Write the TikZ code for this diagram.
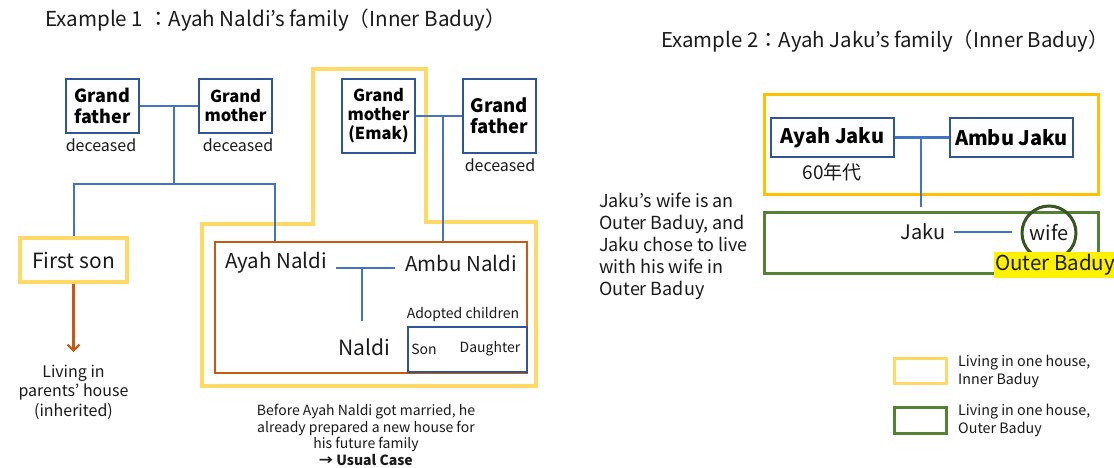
\documentclass[tikz,border=0pt]{standalone}
\usepackage{fontspec}
\setmainfont{Noto Sans CJK JP}
\usetikzlibrary{arrows.meta,calc}
\definecolor{boxblue}{HTML}{2F5597}
\definecolor{lineblue}{HTML}{4472C4}
\definecolor{lyellow}{HTML}{FFD966}
\definecolor{gold}{HTML}{FFC000}
\definecolor{rust}{HTML}{C55A11}
\definecolor{lgreen}{HTML}{548235}
\definecolor{dgreen}{HTML}{375623}
\definecolor{txt}{HTML}{1A1A1A}
\newcommand{\fs}[2]{\fontsize{#1}{#2}\selectfont}
\begin{document}
\begin{tikzpicture}[x=1pt,y=-1pt,
  every node/.style={text=txt, inner sep=0pt},
  person/.style={draw=boxblue, line width=2.3pt, align=center, text=black},
  link/.style={draw=lineblue, line width=2.1pt},
  house/.style={draw=lyellow, line width=3.8pt},
  plain/.style={align=center}]
\useasboundingbox (0,0) rectangle (1114,467);

% ---------- Example 1 ----------
\node[anchor=west, font=\fs{20.6}{24}] (t1) at (45,20) {Example 1 ：Ayah Naldi’s family（Inner Baduy）};

\node[person, minimum width=73, minimum height=54, font=\bfseries\fs{18}{21}] (gf1) at (102.5,106) {Grand\\father};
\node[person, minimum width=73, minimum height=54, font=\bfseries\fs{16.5}{19}] (gm1) at (235.5,106) {Grand\\mother};
\node[font=\fs{16}{19}] (d1) at (101,145) {deceased};
\node[font=\fs{16}{19}] (d2) at (238,145) {deceased};

\node[person, minimum width=73, minimum height=74, font=\bfseries\fs{16.5}{19}] (gm2) at (378.5,116) {Grand\\mother\\(Emak)};
\node[person, minimum width=73, minimum height=74, font=\bfseries\fs{18.5}{21}] (gf2) at (499.5,116) {Grand\\father};
\node[font=\fs{16}{19}] (d3) at (500,165) {deceased};

% yellow house outline
\draw[house] (202,224) -- (313,224) -- (313,69) -- (426,69) -- (426,222) -- (536,222) -- (536,386) -- (202,386) -- cycle;

% brown house
\node[draw=rust, line width=2.4pt, minimum width=312, minimum height=131] (brown) at (371,307.5) {};
% adopted children box
\node[draw=boxblue, line width=2.4pt, minimum width=119, minimum height=45] (adopt) at (467.5,349.5) {};

% first son
\node[house, minimum width=107, minimum height=44, font=\fs{21}{24}] (fson) at (73.5,260) {First son};
\coordinate (arrend) at (73.5,352);
\draw[rust, line width=2.1pt, -{Straight Barb[length=6pt,width=12pt]}] (fson.south) -- (arrend);
\node[plain, font=\fs{16}{19.5}] (living) at (73.5,392) {Living in\\parents’ house\\(inherited)};

% connectors grandparents
\coordinate (m1) at (174,106);
\coordinate (m1d) at (174,184);
\coordinate (m1l) at (74,184);
\coordinate (m1r) at (275,184);
\draw[link] (gf1.east) -- (gm1.west);
\draw[link] (m1) -- (m1d);
\draw[link] (fson.north -| m1l) -- (m1l) -- (m1r) -- (m1r |- brown.north);

\coordinate (m2) at (443,116);
\draw[link] (gm2.east) -- (gf2.west);
\draw[link] (m2) -- (m2 |- brown.north);

% inside brown house
\node[font=\fs{20.5}{24}] (ayah) at (276,263) {Ayah Naldi};
\node[font=\fs{20.5}{24}] (ambu) at (461,263) {Ambu Naldi};
\coordinate (pl) at (336,268);
\coordinate (pr) at (395,268);
\coordinate (pm) at (362,268);
\coordinate (pd) at (362,321);
\draw[link] (pl) -- (pr);
\draw[link] (pm) -- (pd);
\node[font=\fs{21}{24}] (naldi) at (364,347) {Naldi};
\node[font=\fs{14}{17}] (adtxt) at (463,315) {Adopted children};
\node[font=\fs{14}{17}] (son) at (424,349) {Son};
\node[font=\fs{14}{17}] (dau) at (490,349) {Daughter};

\node[plain, font=\fs{14}{16.8}] (cap) at (366,435) {Before Ayah Naldi got married, he\\already prepared a new house for\\his future family\\\textbf{→ Usual Case}};

% ---------- Example 2 ----------
\node[anchor=west, font=\fs{20.4}{24}] (t2) at (661,41) {Example 2：Ayah Jaku’s family（Inner Baduy）};

\node[draw=gold, line width=3pt, minimum width=334, minimum height=100] (goldbox) at (931,144) {};
\node[draw=lgreen, line width=3pt, minimum width=334, minimum height=61] (greenbox) at (931,242.5) {};

\node[person, minimum width=123, minimum height=39, font=\bfseries\fs{20}{23}] (ayj) at (832.5,137.5) {Ayah Jaku};
\node[person, minimum width=123, minimum height=39, font=\bfseries\fs{20}{23}] (amj) at (1011.5,137.5) {Ambu Jaku};
\node[font=\fs{19}{22}] (sixty) at (832,172) {60年代};
\coordinate (jm) at (921,137.5);
\coordinate (jd) at (921,207);
\draw[link] (ayj.east) -- (amj.west);
\draw[link] (jm) -- (jd);

\node[font=\fs{20}{23}] (jaku) at (923,232) {Jaku};
\node[draw=dgreen, line width=3pt, circle, minimum size=54, font=\fs{20}{23}] (wife) at (1049,233) {wife};
\coordinate (jl) at (954,232);
\coordinate (jr) at (1012,232);
\draw[link] (jl) -- (jr);
\node[anchor=west, fill=yellow, inner xsep=1pt, inner ysep=2pt, font=\fs{20.5}{23}] (outer) at (994,265) {Outer Baduy};

\node[anchor=north west, align=left, font=\fs{18}{22}] (expl) at (599,193) {Jaku’s wife is an\\Outer Baduy, and\\Jaku chose to live\\with his wife in\\Outer Baduy};

% legend
\node[draw=lyellow, line width=3pt, minimum width=52, minimum height=25] (leg1) at (920,370.5) {};
\node[draw=lgreen, line width=3pt, minimum width=52, minimum height=26] (leg2) at (920,420) {};
\node[anchor=west, align=left, font=\fs{14.3}{18}] (leg1t) at (958,371) {Living in one house,\\Inner Baduy};
\node[anchor=west, align=left, font=\fs{14.3}{18}] (leg2t) at (958,420) {Living in one house,\\Outer Baduy};
\end{tikzpicture}
\end{document}
